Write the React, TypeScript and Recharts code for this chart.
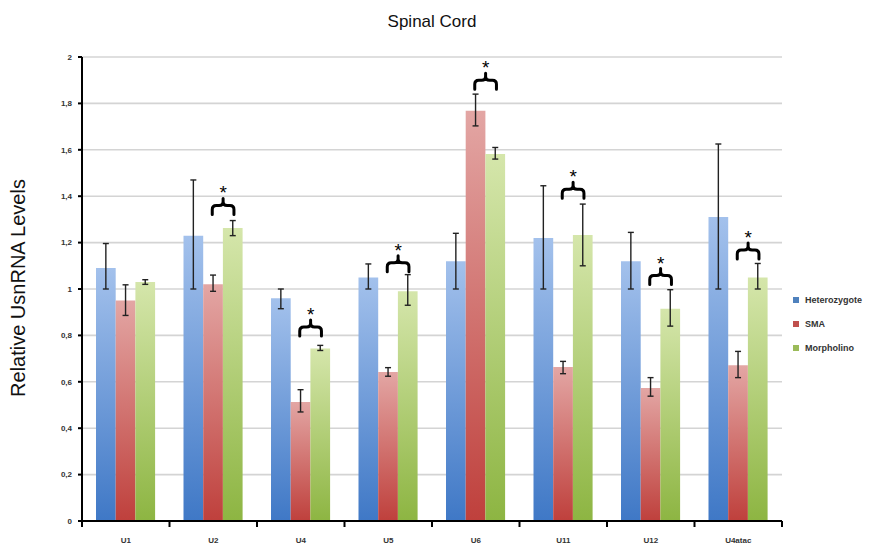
import React from 'react';
import { ComposedChart, Bar, Scatter, XAxis, YAxis, CartesianGrid, ErrorBar } from 'recharts';

const categories = ['U1', 'U2', 'U4', 'U5', 'U6', 'U11', 'U12', 'U4atac'];

const hetValues = [1.09, 1.23, 0.96, 1.05, 1.12, 1.22, 1.12, 1.31];
const hetLow = [1.0, 1.0, 0.915, 1.0, 1.0, 1.0, 1.0, 1.0];
const hetHigh = [1.196, 1.47, 1.0, 1.108, 1.24, 1.445, 1.244, 1.625];

const smaValues = [0.95, 1.02, 0.513, 0.642, 1.768, 0.664, 0.573, 0.671];
const smaLow = [0.886, 0.99, 0.47, 0.624, 1.703, 0.635, 0.538, 0.618];
const smaHigh = [1.018, 1.06, 0.566, 0.661, 1.84, 0.688, 0.618, 0.731];

const morphValues = [1.03, 1.263, 0.743, 0.99, 1.582, 1.233, 0.915, 1.05];
const morphLow = [1.02, 1.23, 0.735, 0.93, 1.56, 1.1, 0.84, 1.0];
const morphHigh = [1.04, 1.295, 0.757, 1.062, 1.61, 1.366, 0.997, 1.11];

// height of the significance brace (null = no brace)
const sigLevels = [null, 1.36, 0.836, 1.113, 1.9, 1.43, 1.058, 1.168];

const yTicks = [0, 0.2, 0.4, 0.6, 0.8, 1, 1.2, 1.4, 1.6, 1.8, 2];

const data = categories.map((name, i) => ({
  name,
  het: hetValues[i],
  hetErr: [hetValues[i] - hetLow[i], hetHigh[i] - hetValues[i]],
  sma: smaValues[i],
  smaErr: [smaValues[i] - smaLow[i], smaHigh[i] - smaValues[i]],
  morph: morphValues[i],
  morphErr: [morphValues[i] - morphLow[i], morphHigh[i] - morphValues[i]],
  sig: sigLevels[i],
}));

const BAR = 19.7;
const font = '"Liberation Sans", Arial, sans-serif';

const Brace = (props: any) => {
  const { cx, cy, payload } = props;
  if (payload == null || payload.sig == null || !isFinite(cy)) return null;
  const x1 = cx - 1;
  const x2 = cx + BAR + 1;
  const m = (x1 + x2) / 2;
  const d = `M${x1},${cy + 9} L${x1},${cy + 4} Q${x1},${cy} ${x1 + 4},${cy} L${m - 4},${cy} Q${m},${cy} ${m},${cy - 4} L${m},${cy - 7} M${m},${cy - 4} Q${m},${cy} ${m + 4},${cy} L${x2 - 4},${cy} Q${x2},${cy} ${x2},${cy + 4} L${x2},${cy + 9}`;
  return (
    <g>
      <path d={d} fill="none" stroke="#000" strokeWidth={3} strokeLinecap="round" strokeLinejoin="round" />
      <text x={m} y={cy - 6} textAnchor="middle" fontSize={19} fontFamily={font} fill="#000">*</text>
    </g>
  );
};

const XTick = (props: any) => {
  const { x, y, payload, index } = props;
  const half = payload && payload.offset ? payload.offset : 43.75;
  return (
    <g>
      <line x1={x - half} y1={521} x2={x - half} y2={527} stroke="#000" strokeWidth={2} />
      {index === categories.length - 1 && (
        <line x1={x + half} y1={521} x2={x + half} y2={527} stroke="#000" strokeWidth={2} />
      )}
      <text x={x} y={y + 14} textAnchor="middle" fontSize={8} fontWeight="bold" fontFamily={font} fill="#333">
        {payload.value}
      </text>
    </g>
  );
};

const legendItems = [
  { label: 'Heterozygote', color: '#4f81bd' },
  { label: 'SMA', color: '#c0504d' },
  { label: 'Morpholino', color: '#9bbb59' },
];

export default function App() {
  return (
    <div style={{ position: 'absolute', left: 0, top: 0, width: 869, height: 544, background: '#fff', fontFamily: font, overflow: 'hidden' }}>
      <div style={{ position: 'absolute', left: 82, width: 700, top: 12, textAlign: 'center', fontSize: 17, color: '#111' }}>
        Spinal Cord
      </div>
      <div
        style={{
          position: 'absolute',
          left: 18,
          top: 288,
          transform: 'translate(-50%, -50%) rotate(-90deg)',
          whiteSpace: 'nowrap',
          fontSize: 20,
          color: '#111',
        }}
      >
        Relative UsnRNA Levels
      </div>
      <ComposedChart
        width={869}
        height={544}
        data={data}
        margin={{ top: 57, right: 87, bottom: 0, left: 0 }}
        barGap={0}
        barSize={BAR}
      >
        <defs>
          <linearGradient id="gBlue" x1="0" y1="0" x2="0" y2="1">
            <stop offset="0%" stopColor="#a3c1ec" />
            <stop offset="100%" stopColor="#3f78c6" />
          </linearGradient>
          <linearGradient id="gRed" x1="0" y1="0" x2="0" y2="1">
            <stop offset="0%" stopColor="#e3a6a4" />
            <stop offset="100%" stopColor="#bf403c" />
          </linearGradient>
          <linearGradient id="gGreen" x1="0" y1="0" x2="0" y2="1">
            <stop offset="0%" stopColor="#d5e6ab" />
            <stop offset="100%" stopColor="#8db542" />
          </linearGradient>
        </defs>
        <CartesianGrid vertical={false} stroke="#d4d4d4" strokeWidth={1.6} />
        <XAxis
          dataKey="name"
          height={23}
          axisLine={{ stroke: '#000', strokeWidth: 2 }}
          tickLine={false}
          tick={<XTick />}
          interval={0}
        />
        <YAxis
          width={82}
          domain={[0, 2]}
          ticks={yTicks}
          interval={0}
          axisLine={{ stroke: '#000', strokeWidth: 2 }}
          tickLine={{ stroke: '#000', strokeWidth: 2 }}
          tickSize={4}
          tickMargin={6}
          tick={{ fontSize: 8, fontWeight: 'bold', fill: '#333', fontFamily: font }}
          tickFormatter={(v: number) => String(v).replace('.', ',')}
        />
        <Bar dataKey="het" fill="url(#gBlue)" isAnimationActive={false}>
          <ErrorBar dataKey="hetErr" width={3} stroke="#222" strokeWidth={1.4} />
        </Bar>
        <Bar dataKey="sma" fill="url(#gRed)" isAnimationActive={false}>
          <ErrorBar dataKey="smaErr" width={3} stroke="#222" strokeWidth={1.4} />
        </Bar>
        <Bar dataKey="morph" fill="url(#gGreen)" isAnimationActive={false}>
          <ErrorBar dataKey="morphErr" width={3} stroke="#222" strokeWidth={1.4} />
        </Bar>
        <Scatter dataKey="sig" shape={<Brace />} isAnimationActive={false} />
      </ComposedChart>
      <div style={{ position: 'absolute', left: 793, top: 288 }}>
        {legendItems.map((it) => (
          <div key={it.label} style={{ display: 'flex', alignItems: 'center', height: 24, fontSize: 9, fontWeight: 'bold', color: '#333', whiteSpace: 'nowrap' }}>
            <span style={{ width: 6, height: 6, background: it.color, marginRight: 6, display: 'inline-block' }} />
            {it.label}
          </div>
        ))}
      </div>
    </div>
  );
}
